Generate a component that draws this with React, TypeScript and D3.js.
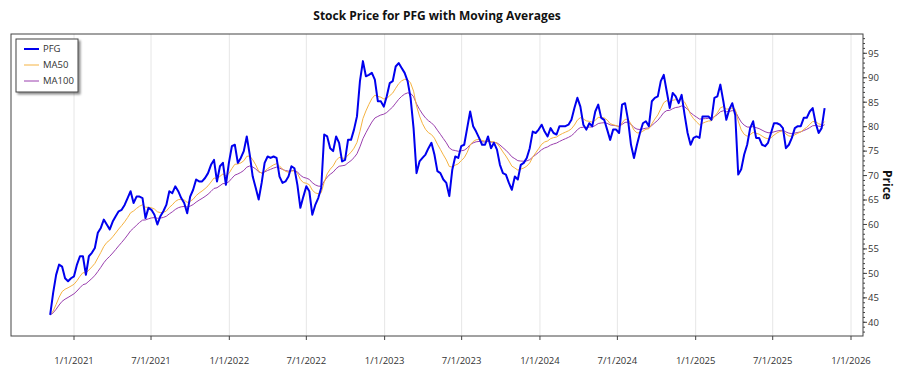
import React from "react";
import * as d3 from "d3";

// ---- data (weekly closes, starting at START_DATE) ----
const START_DATE = "2020-11-06";
const PFG_WEEKLY: number[] = [
  41.5, 46, 49.7, 51.8, 51.4, 49.0, 48.4, 49.0, 49.4, 51.8, 53.5, 53.5, 49.7, 53.5, 54.2, 55.2, 58.3, 59.3, 61.0, 60.0,
  59.0, 60.6, 61.7, 62.7, 63.0, 64.0, 65.4, 66.8, 64.4, 65.7, 65.7, 65.4, 61.3, 63.4, 63.0, 62.0, 60.0, 61.7, 62.7, 64.0,
  66.8, 66.4, 67.8, 66.8, 65.4, 64.4, 62.3, 65.7, 67.1, 69.2, 68.8, 68.8, 69.5, 70.5, 72.2, 73.2, 68.8, 71.9, 72.6, 68.1,
  72.6, 76.0, 76.3, 72.6, 73.6, 75.0, 78.0, 74.3, 69.8, 67.5, 65.1, 68.5, 72.6, 73.9, 73.6, 73.9, 73.6, 69.8, 68.5, 68.8,
  69.8, 71.9, 71.5, 68.1, 63.4, 65.7, 67.8, 66.8, 62.0, 64.0, 65.4, 67.5, 78.4, 78.0, 75.6, 75.0, 78.0, 76.7, 72.9, 73.2,
  77.3, 77.3, 79.4, 82.1, 89.3, 93.4, 90.3, 90.6, 91.0, 89.6, 85.2, 85.2, 84.1, 86.2, 88.9, 89.3, 92.3, 93.0, 92.0, 91.0,
  89.3, 85.9, 79.7, 70.5, 72.9, 73.6, 74.3, 75.6, 76.7, 74.3, 70.9, 70.5, 69.2, 68.5, 65.8, 71.2, 73.9, 73.6, 76.0, 76.3,
  79.7, 83.1, 80.1, 79.0, 77.7, 76.3, 76.3, 78.0, 75.6, 76.7, 75.3, 72.2, 70.5, 70.2, 68.5, 67.1, 69.8, 69.2, 72.2, 72.6,
  73.6, 75.6, 79.0, 78.7, 79.4, 80.4, 79.0, 78.0, 79.7, 78.7, 78.4, 80.1, 80.1, 80.1, 80.4, 81.4, 83.8, 85.9, 84.1, 80.4,
  79.4, 80.7, 80.1, 83.1, 84.5, 81.8, 81.4, 79.4, 77.3, 79.4, 79.4, 78.7, 84.5, 84.8, 81.4, 76.3, 73.6, 76.3, 78.7, 80.7,
  81.1, 80.1, 85.2, 85.9, 86.2, 89.3, 90.6, 87.2, 83.8, 86.9, 86.2, 84.8, 86.5, 82.4, 78.7, 76.3, 77.7, 78.0, 77.7, 82.1,
  82.1, 82.1, 81.4, 85.9, 86.2, 88.6, 85.2, 81.4, 83.5, 84.8, 82.4, 70.2, 71.3, 74.3, 76.3, 79.7, 81.1, 77.7, 77.7, 76.3,
  76.0, 76.7, 78.7, 80.7, 80.7, 80.4, 79.7, 75.6, 76.3, 77.7, 79.7, 80.1, 80.1, 81.8, 81.8, 83.1, 83.8, 80.7, 78.7, 79.7,
  83.8,
];
const X_TICK_LABELS = ["1/1/2021", "7/1/2021", "1/1/2022", "7/1/2022", "1/1/2023", "7/1/2023", "1/1/2024", "7/1/2024", "1/1/2025", "7/1/2025", "1/1/2026"];
const Y_TICKS = [40, 45, 50, 55, 60, 65, 70, 75, 80, 85, 90, 95];
const SERIES_NAMES = ["PFG", "MA50", "MA100"];
const SERIES_COLORS = ["#0000ee", "#f5b342", "#9a3fae"];
const MA_SPANS_DAYS = [50, 100]; // exponential moving averages, trading-day spans
const TRADING_DAYS_PER_WEEK = 5;
const TITLE = "Stock Price for PFG with Moving Averages";
const Y_LABEL = "Price";

const FONT = "'Open Sans', 'Noto Sans', sans-serif";

function parseTick(s: string): Date {
  const [m, d, y] = s.split("/").map(Number);
  return new Date(Date.UTC(y, m - 1, d));
}

// EMA on weekly closes, with the daily span converted to a weekly smoothing factor
function ema(values: number[], spanDays: number): number[] {
  const aDay = 2 / (spanDays + 1);
  const a = 1 - Math.pow(1 - aDay, TRADING_DAYS_PER_WEEK);
  const out: number[] = [];
  values.forEach((v, i) => out.push(i === 0 ? v : a * v + (1 - a) * out[i - 1]));
  return out;
}

export default function App() {
  const W = 900, H = 375;
  const L = 11, R = 863, T = 34, B = 336;

  const start = d3.utcParse("%Y-%m-%d")(START_DATE) as Date;
  const dates = PFG_WEEKLY.map((_, i) => d3.utcDay.offset(start, i * 7));
  const seriesVals = [PFG_WEEKLY, ...MA_SPANS_DAYS.map((n) => ema(PFG_WEEKLY, n))];

  const xTicks = X_TICK_LABELS.map(parseTick);
  const x = d3.scaleUtc().domain([xTicks[0], xTicks[xTicks.length - 1]]).range([74, 851]);
  const y = d3.scaleLinear().domain([40, 95]).range([322.3, 53.3]);

  const yMinor = d3.range(38, 99).filter((v) => y(v) >= T && y(v) <= B);

  const line = d3
    .line<number>()
    .x((_, i) => x(dates[i]))
    .y((v) => y(v));

  return (
    <div style={{ position: "fixed", left: 0, top: 0 }}>
      <svg width={W} height={H} style={{ display: "block", background: "#fff" }} fontFamily={FONT}>
        <defs>
          <clipPath id="plot">
            <rect x={L} y={T} width={R - L} height={B - T} />
          </clipPath>
          <filter id="shadow" x="-20%" y="-20%" width="150%" height="150%">
            <feDropShadow dx="2" dy="2" stdDeviation="1.2" floodColor="#000" floodOpacity="0.45" />
          </filter>
        </defs>

        {/* title */}
        <text x={(L + R) / 2} y={20} textAnchor="middle" fontSize={12} fontWeight="bold" fill="#111">
          {TITLE}
        </text>

        {/* vertical grid */}
        {xTicks.map((d, i) => (
          <line key={"g" + i} x1={x(d)} x2={x(d)} y1={T} y2={B} stroke="#e6e6e6" strokeWidth={1} />
        ))}

        {/* series */}
        <g clipPath="url(#plot)" fill="none" strokeLinejoin="round">
          <path d={line(seriesVals[2]) || ""} stroke={SERIES_COLORS[2]} strokeWidth={1} />
          <path d={line(seriesVals[1]) || ""} stroke={SERIES_COLORS[1]} strokeWidth={1} />
          <path d={line(seriesVals[0]) || ""} stroke={SERIES_COLORS[0]} strokeWidth={2} />
        </g>

        {/* frame */}
        <rect x={L} y={T} width={R - L} height={B - T} fill="none" stroke="#444" strokeWidth={1} />

        {/* x axis ticks */}
        {xTicks.map((d, i) => (
          <g key={"x" + i}>
            <line x1={x(d)} x2={x(d)} y1={B} y2={B + 4} stroke="#444" />
            <text x={x(d)} y={364} textAnchor="middle" fontSize={9.5} fill="#333">
              {X_TICK_LABELS[i]}
            </text>
          </g>
        ))}

        {/* y axis (right) */}
        {yMinor.map((v) => (
          <line key={"m" + v} x1={R} x2={R + 2} y1={y(v)} y2={y(v)} stroke="#444" />
        ))}
        {Y_TICKS.map((v) => (
          <g key={"y" + v}>
            <line x1={R} x2={R + 4} y1={y(v)} y2={y(v)} stroke="#444" />
            <text x={868} y={y(v)} dy="0.35em" fontSize={9.5} fill="#333">
              {v}
            </text>
          </g>
        ))}
        <text
          transform={`translate(887,${(T + B) / 2}) rotate(90)`}
          textAnchor="middle"
          dy="0.35em"
          fontSize={12}
          fontWeight="bold"
          fill="#111"
        >
          {Y_LABEL}
        </text>

        {/* legend */}
        <g>
          <rect x={16} y={39} width={62} height={53} fill="#fff" stroke="#444" strokeWidth={1} filter="url(#shadow)" />
          {SERIES_NAMES.map((n, i) => (
            <g key={n} transform={`translate(0,${49 + i * 16})`}>
              <line x1={24} x2={39} y1={0} y2={0} stroke={SERIES_COLORS[i]} strokeWidth={i === 0 ? 2 : 1} />
              <text x={43} y={0} dy="0.35em" fontSize={9.5} fill="#333">
                {n}
              </text>
            </g>
          ))}
        </g>
      </svg>
    </div>
  );
}
